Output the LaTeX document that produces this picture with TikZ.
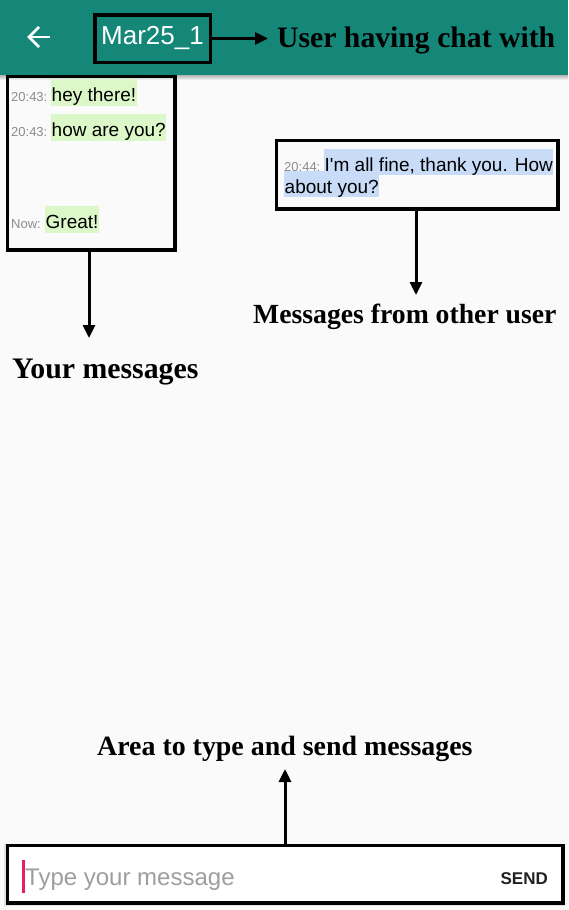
\documentclass[tikz,border=0pt]{standalone}
\usepackage{fontspec}
\setmainfont{Liberation Serif}
\setsansfont{Liberation Sans}
\usetikzlibrary{arrows.meta}
\definecolor{bgc}{RGB}{250,250,250}
\definecolor{barteal}{RGB}{20,135,120}
\definecolor{mygreen}{RGB}{220,248,200}
\definecolor{myblue}{RGB}{200,220,248}
\definecolor{stampc}{RGB}{140,140,140}
\definecolor{hintc}{RGB}{158,158,158}
\definecolor{cursorc}{RGB}{233,30,99}
\definecolor{sendc}{RGB}{33,33,33}
\tikzset{
  frame/.style={draw=black, line width=3.5pt, inner sep=0pt},
  arr/.style={line width=3pt, -{Triangle[length=13pt,width=12pt]}},
  lab/.style={inner sep=0pt, anchor=base west, font=\bfseries\fontsize{#1}{#1}\selectfont},
  msg/.style={inner xsep=0.5pt, inner ysep=0pt, text height=22.5pt, text depth=4pt, anchor=base west, fill=#1, font=\sffamily\fontsize{19}{23}\selectfont},
  stamp/.style={inner sep=0pt, anchor=base west, text=stampc, font=\sffamily\fontsize{13}{15}\selectfont}
}
\begin{document}
\begin{tikzpicture}[x=1pt,y=-1pt]
\useasboundingbox (0,0) rectangle (568,910);
\fill[bgc] (0,0) rectangle (568,910);
% top bar
\shade[top color=black!30, bottom color=bgc] (0,75) rectangle (568,80);
\fill[barteal] (0,0) rectangle (568,75);
\draw[white, line width=2.5pt] (50,37) -- (29,37);
\draw[white, line width=2.5pt, line join=miter] (39,27) -- (29,37) -- (39,47);
\node[frame, minimum width=115.5pt, minimum height=47.5pt, text=white, font=\sffamily\fontsize{26}{30}\selectfont] (user) at (152.5,38.5) {Mar25\_1};
\node[lab=29.7] (chatlab) at (277,47) {User having chat with};
\coordinate (ctip) at (268,39);
\draw[arr] (user.east) -- (user.east -| ctip);
% your messages box
\node[frame, minimum width=167.5pt, minimum height=173.5pt, anchor=north west] (mine) at (5.75,74.75) {};
\node[stamp] (t1) at (11,101.5) {20:43:};
\node[msg=mygreen] (m1) at (51,101.5) {hey there!};
\node[stamp] (t2) at (11,136.5) {20:43:};
\node[msg=mygreen] (m2) at (51,136.5) {how are you?};
\node[stamp] (t3) at (11,228.5) {Now:};
\node[msg=mygreen] (m3) at (45,228.5) {Great!};
% other user's box
\node[frame, minimum width=281.5pt, minimum height=68.5pt, anchor=north west] (other) at (274.75,138.75) {};
\node[msg=myblue] (r2) at (284,193) {about you?};
\node[stamp] (t4) at (284,171) {20:44:};
\node[msg=myblue] (r1) at (324,171) {I\textquotesingle m all fine, thank you. How};
% labels and arrows
\node[lab=27.7] (otherlab) at (253,323) {Messages from other user};
\node[lab=29.8] (minelab) at (12,378) {Your messages};
\node[lab=27.9] (arealab) at (97,755) {Area to type and send messages};
\coordinate (ytip) at (89,338);
\draw[arr] (mine.south -| ytip) -- (ytip);
\coordinate (otip) at (416,295);
\draw[arr] (other.south -| otip) -- (otip);
% input area
\fill[black!12] (4,844) rectangle (565,906);
\node[frame, fill=white, minimum width=555.5pt, minimum height=57.5pt, anchor=north west] (inbox) at (5.75,843.75) {};
\fill[cursorc] (22,860) rectangle (25,893);
\node[inner sep=0pt, anchor=base west, text=hintc, font=\sffamily\fontsize{24}{28}\selectfont] (hint) at (25,885) {Type your message};
\node[inner sep=0pt, anchor=base east, text=sendc, font=\sffamily\bfseries\fontsize{17}{20}\selectfont] (send) at (548,884) {SEND};
\coordinate (atip) at (285,769);
\draw[arr] (inbox.north -| atip) -- (atip);
\end{tikzpicture}
\end{document}
